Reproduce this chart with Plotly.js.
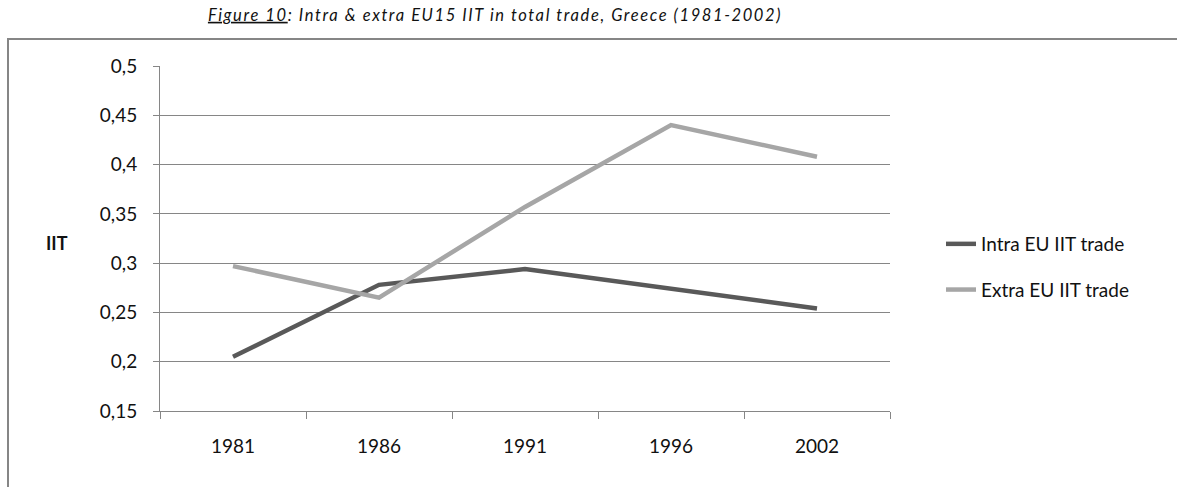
<!DOCTYPE html>
<html>
<head>
<meta charset="utf-8">
<script src="https://cdn.plot.ly/plotly-3.0.1.min.js"></script>
<style>
  html, body { margin: 0; padding: 0; background: #fff; }
  #chart { width: 1177px; height: 487px; }
  .gtitle { letter-spacing: 1.6px; }
</style>
</head>
<body>
<div id="chart"></div>
<script>
// ---- data ----
const years = ["1981", "1986", "1991", "1996", "2002"];
const intraEU = [0.205, 0.278, 0.294, 0.274, 0.254];
const extraEU = [0.297, 0.265, 0.357, 0.440, 0.408];
const seriesNames = ["Intra EU IIT trade", "Extra EU IIT trade"];
const yTickVals = [0.15, 0.2, 0.25, 0.3, 0.35, 0.4, 0.45, 0.5];
const yTickText = ["0,15", "0,2", "0,25", "0,3", "0,35", "0,4", "0,45", "0,5"];

// ---- layout geometry ----
const W = 1177, H = 487;
const M = { l: 160, r: 287, t: 66, b: 76 };
const PW = W - M.l - M.r, PH = H - M.t - M.b;
const px2x = p => (p - M.l) / PW;
const px2y = p => (H - M.b - p) / PH;

const font = "Lato, Carlito, Calibri, sans-serif";
const grey = "#868686";
const txt = "#111";

const traces = [
  { x: years, y: intraEU, name: seriesNames[0], type: "scatter", mode: "lines",
    line: { color: "#595959", width: 4.5 }, legendgroup: "a" },
  { x: years, y: extraEU, name: seriesNames[1], type: "scatter", mode: "lines",
    line: { color: "#a6a6a6", width: 4.5 }, legendgroup: "b" }
];

const layout = {
  width: W, height: H,
  margin: M,
  paper_bgcolor: "#fff", plot_bgcolor: "#fff",
  font: { family: font, size: 19, color: txt },
  title: {
    text: "<u>Figure 10</u>: Intra &amp; extra EU15 IIT in total trade, Greece (1981-2002)",
    font: { family: font, size: 16.5, style: "italic", color: txt },
    x: 495 / W, xanchor: "center", xref: "container",
    y: 1 - 15 / H, yanchor: "middle", yref: "container"
  },
  xaxis: {
    type: "category",
    range: [-0.5, years.length - 0.5],
    showline: true, linecolor: grey, linewidth: 1,
    ticks: "outside", tickson: "boundaries", ticklen: 7, tickcolor: grey,
    showgrid: false, zeroline: false,
    ticklabelstandoff: 18,
    tickfont: { family: font, size: 19, color: txt }
  },
  yaxis: {
    range: [0.15, 0.5],
    tickvals: yTickVals, ticktext: yTickText,
    showline: true, linecolor: grey, linewidth: 1,
    ticks: "outside", ticklen: 6, tickcolor: grey,
    showgrid: true, gridcolor: grey, gridwidth: 1,
    zeroline: false,
    ticklabelstandoff: 12,
    tickfont: { family: font, size: 19, color: txt }
  },
  showlegend: true,
  legend: {
    x: px2x(941), xanchor: "left",
    y: px2y(267), yanchor: "middle",
    traceorder: "grouped", tracegroupgap: 18,
    font: { family: font, size: 19, color: txt },
    bgcolor: "rgba(0,0,0,0)"
  },
  annotations: [
    { text: "<b>IIT</b>", xref: "paper", yref: "paper",
      x: px2x(57), y: px2y(243), xanchor: "center", yanchor: "middle",
      showarrow: false, font: { family: font, size: 18, color: txt } }
  ],
  shapes: [
    { type: "rect", xref: "paper", yref: "paper",
      x0: px2x(8), x1: px2x(1185), y0: px2y(39), y1: px2y(500),
      line: { color: grey, width: 2 }, fillcolor: "rgba(0,0,0,0)", layer: "below" }
  ]
};

Plotly.newPlot("chart", traces, layout, { displayModeBar: false, staticPlot: true });
</script>
</body>
</html>
